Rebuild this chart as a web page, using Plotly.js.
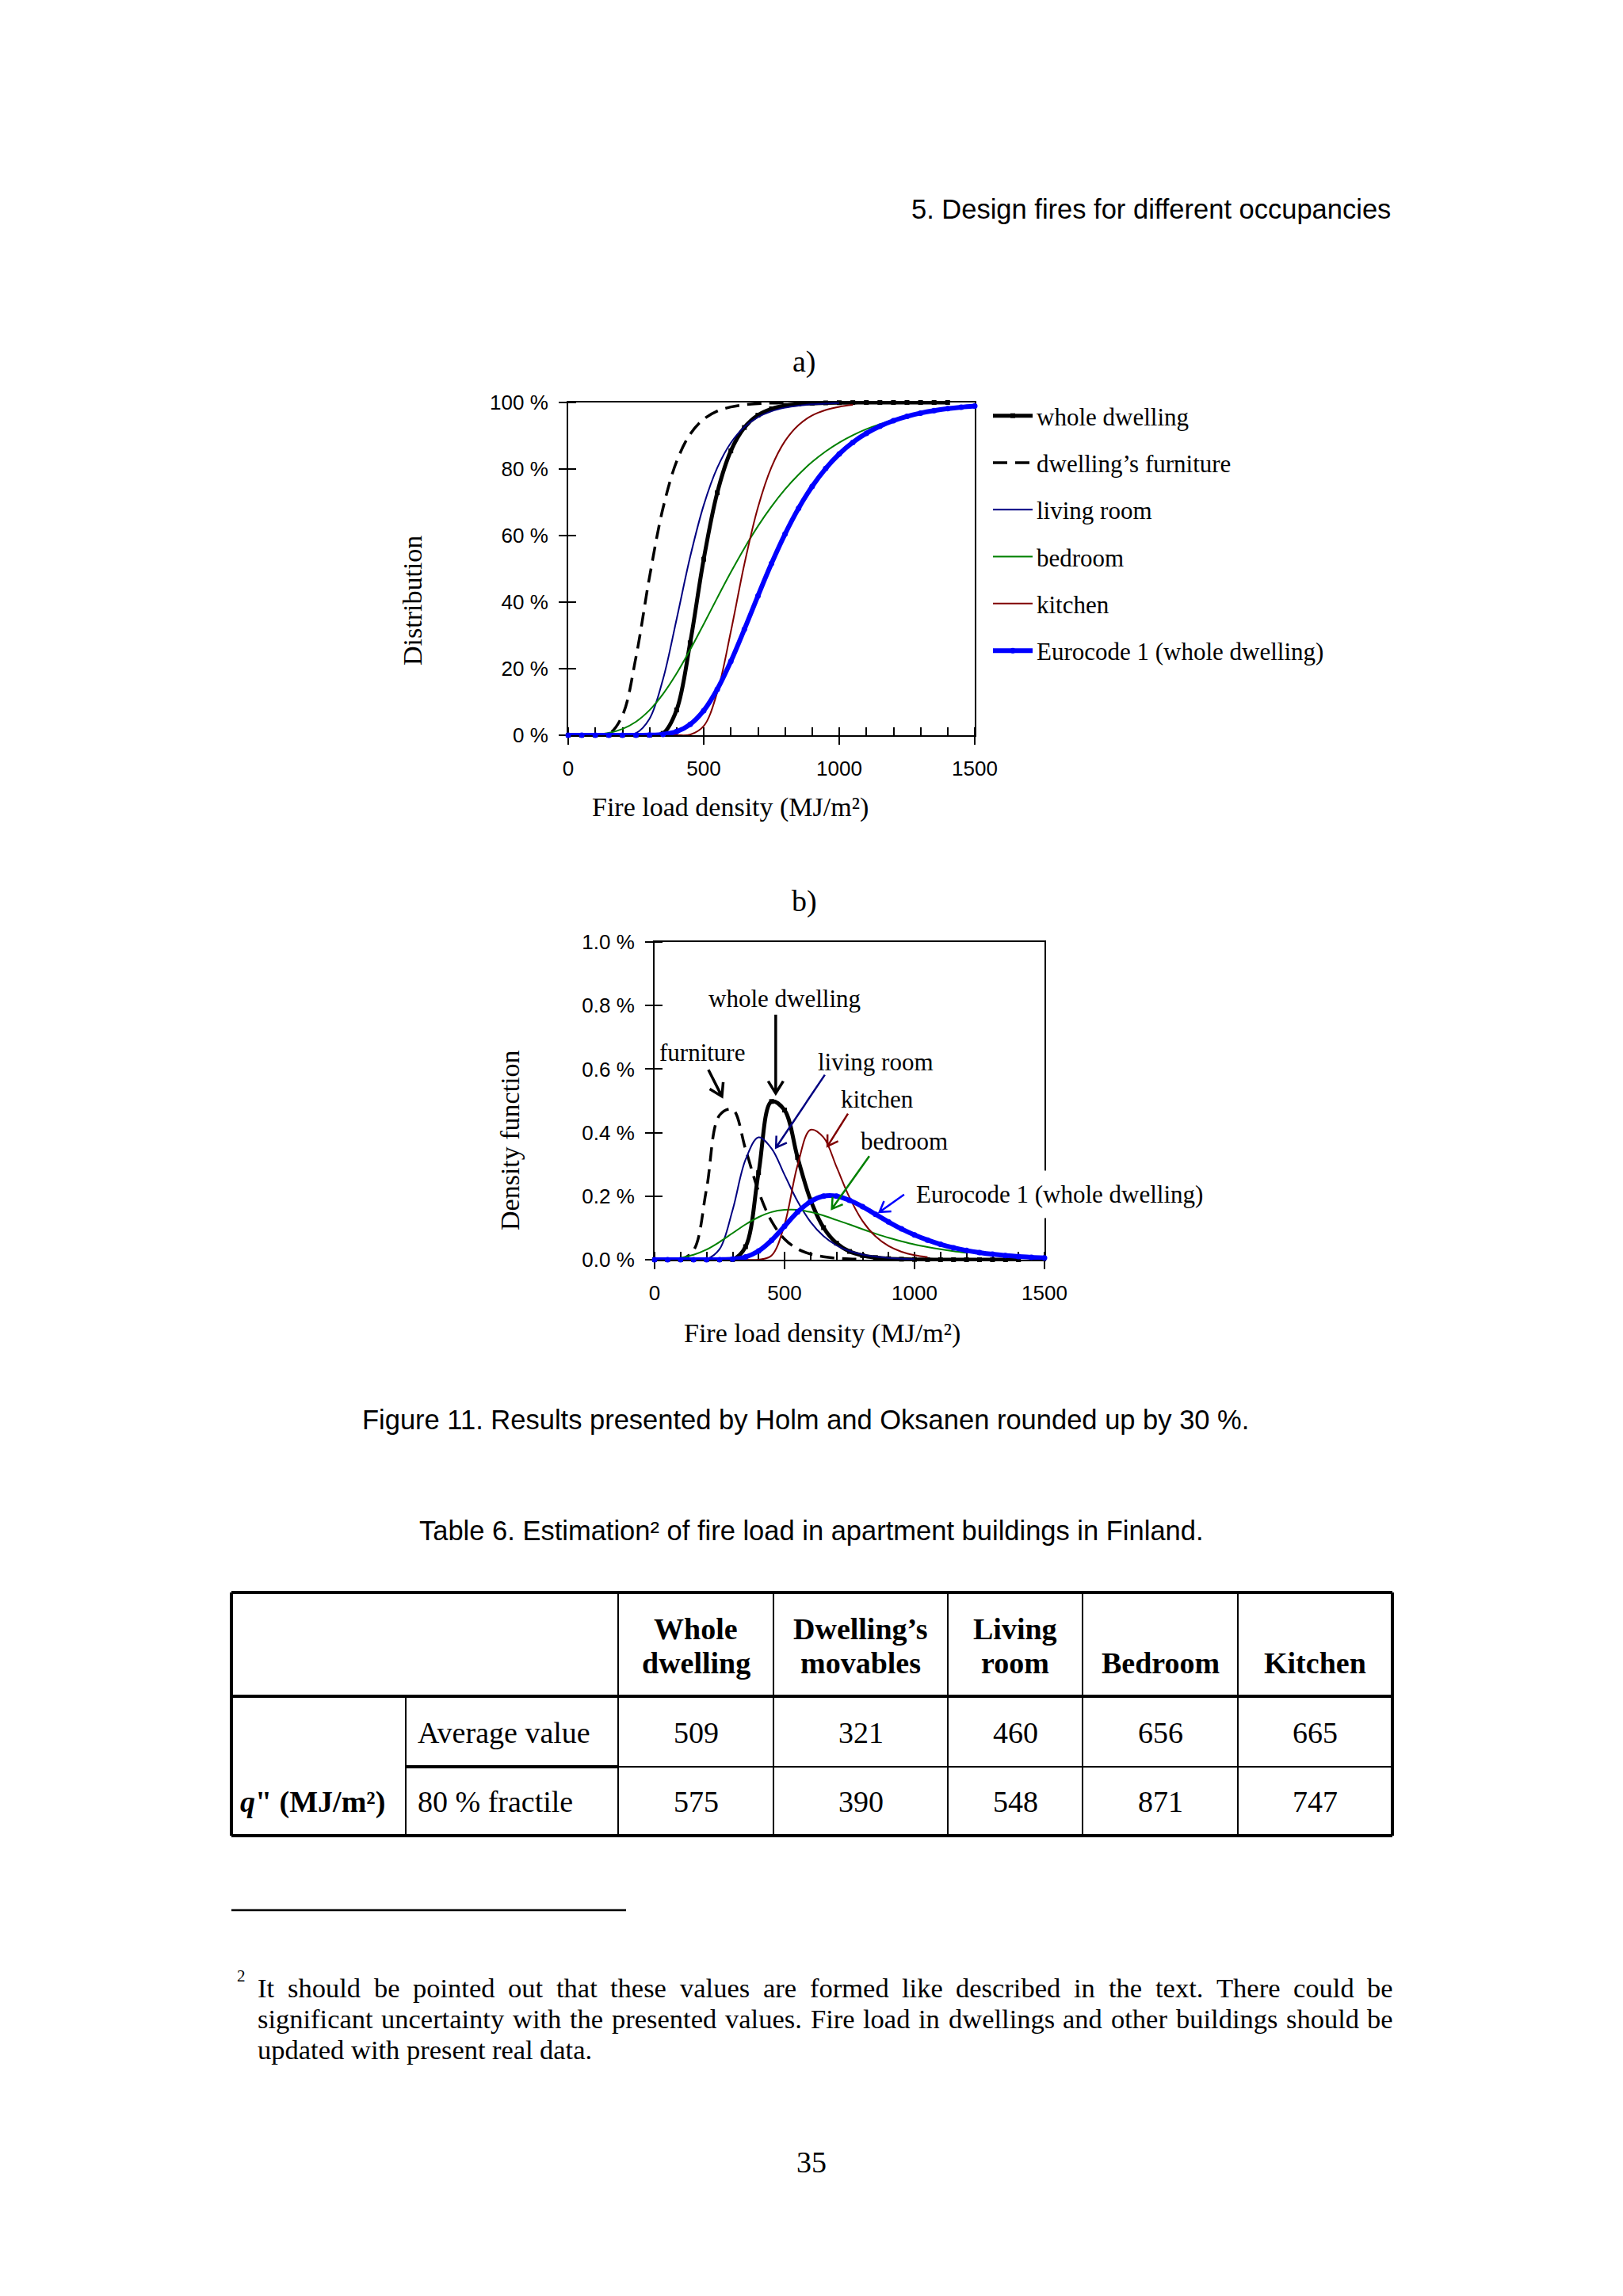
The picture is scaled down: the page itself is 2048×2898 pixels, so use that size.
<!DOCTYPE html>
<html><head><meta charset="utf-8">
<script src="https://cdn.plot.ly/plotly-3.0.1.min.js"></script>
<style>html,body{margin:0;padding:0;background:#fff}#chart{width:2048px;height:2898px}</style>
</head><body><div id="chart"></div>
<script>
// ---------------- data ----------------
const fireLoad = [0,50,100,150,200,250,300,350,400,450,500,550,600,650,700,750,800,850,900,950,1000,1050,1100,1150,1200,1250,1300,1350,1400,1450,1500];
const seriesNames = ['whole dwelling','dwelling’s furniture','living room','bedroom','kitchen','Eurocode 1 (whole dwelling)'];

// a) cumulative distribution, %
const cdfWhole     = [0,0,0,0,0,0,0.003,0.56,7.59,27.78,52.91,72.88,85.45,92.48,96.19,98.09,99.05,99.52,99.76,99.88,99.94,99.97,99.99,99.99,100,100,100,100,100];
const cdfFurniture = [0,0,0.002,0.40,5.91,23.46,47.56,68.33,82.27,90.48,95.00,97.41,98.66,99.31,99.65,99.82,99.91];
const cdfLiving    = [0,0,0,0,0.019,0.63,4.96,16.90,34.90,53.62,69.14,80.37,87.86,92.63,95.57,97.35,98.42,99.06,99.44,99.67,99.80];
const cdfBedroom   = [0.0085,0.052,0.223,0.727,1.878,4.052,7.524,12.40,18.55,25.69,33.40,41.28,48.97,56.21,62.83,68.73,73.89,78.33,82.12,85.31,87.97,90.17,91.99,93.48,94.71];
const cdfKitchen   = [0,0,0,0,0,0,0,0,0.0016,0.183,2.752,12.91,31.14,51.44,68.47,80.58,88.43,93.23,96.09,97.75,98.71,99.26];
const cdfEurocode  = [0,0,0,0,0,0.0035,0.041,0.267,1.107,3.254,7.391,13.80,22.18,31.83,41.87,51.59,60.45,68.20,74.75,80.16,84.52,87.99,90.73,92.87,94.53,95.81,96.80,97.56,98.14,98.58,98.92];

// b) density function, %
const pdfWhole     = [0,0,0,0,0,0,0.0004,0.041,0.274,0.498,0.471,0.322,0.188,0.101,0.052,0.026,0.013,0.0067,0.0033,0.0016,0.0008,0.0004,0.0002,0.0001,0,0,0,0,0];
const pdfFurniture = [0,0,0.0003,0.0295,0.2235,0.455,0.473,0.348,0.215,0.121,0.065,0.034,0.0178,0.0092,0.0047,0.0024,0.0012];
const pdfLiving    = [0,0,0,0,0.0017,0.0333,0.156,0.315,0.385,0.350,0.267,0.184,0.119,0.0744,0.0454,0.0274,0.0164,0.0098,0.0058,0.0034,0.0021];
const pdfBedroom   = [0.0003,0.0017,0.0059,0.0154,0.032,0.0558,0.0835,0.111,0.134,0.150,0.157,0.157,0.150,0.139,0.125,0.111,0.096,0.082,0.069,0.058,0.048,0.040,0.033,0.027,0.022];
const pdfKitchen   = [0,0,0,0,0,0,0,0,0.0002,0.013,0.111,0.297,0.409,0.385,0.292,0.196,0.122,0.0735,0.0432,0.025,0.0144,0.0083];
const pdfEurocode  = [0,0,0,0,0,0.0002,0.0018,0.0087,0.0273,0.0611,0.1055,0.150,0.183,0.200,0.200,0.187,0.167,0.143,0.119,0.097,0.078,0.062,0.0484,0.0377,0.0291,0.0225,0.0172,0.0132,0.0101,0.0077,0.0059];

const xTickVals = [0,500,1000,1500];
const yTickValsA = [0,20,40,60,80,100];
const yTickTextA = ['0 %','20 %','40 %','60 %','80 %','100 %'];
const yTickValsB = [0,0.2,0.4,0.6,0.8,1.0];
const yTickTextB = ['0.0 %','0.2 %','0.4 %','0.6 %','0.8 %','1.0 %'];

// table
const tableColumns = ['Whole<br>dwelling','Dwelling’s<br>movables','Living<br>room','Bedroom','Kitchen'];
const tableRowLabels = ['Average value','80 % fractile'];
const averageValues = [509,321,460,656,665];
const fractileValues = [575,390,548,871,747];

// text
const headerText = '5. Design fires for different occupancies';
const figureCaption = 'Figure 11. Results presented by Holm and Oksanen rounded up by 30 %.';
const tableCaption = 'Table 6. Estimation² of fire load in apartment buildings in Finland.';
const footLines = [
  'It should be pointed out that these values are formed like described in the text. There could be',
  'significant uncertainty with the presented values. Fire load in dwellings and other buildings should be',
  'updated with present real data.'
];
const pageNumber = '35';
const xTitle = 'Fire load density (MJ/m²)';
const yTitleA = 'Distribution';
const yTitleB = 'Density function';

// ---------------- layout helpers ----------------
const W = 2048, H = 2898;
const px = v => v / W;
const py = v => 1 - v / H;
const serif = 'Liberation Serif, Times New Roman, serif';
const sans = 'Liberation Sans, Arial, sans-serif';

const plotA = {l:717, r:1230, t:508, b:928};
const plotB = {l:826, r:1318, t:1189, b:1590};

const styles = [
  {color:'#000000', width:5, dash:'solid', mode:'lines+markers', symbol:'square', msize:6},
  {color:'#000000', width:3.5, dash:'18px,10px', mode:'lines'},
  {color:'#000080', width:2, dash:'solid', mode:'lines'},
  {color:'#008000', width:2, dash:'solid', mode:'lines'},
  {color:'#800000', width:2, dash:'solid', mode:'lines'},
  {color:'#0000ff', width:6, dash:'solid', mode:'lines+markers', symbol:'circle', msize:7}
];
const cdfSeries = [cdfWhole, cdfFurniture, cdfLiving, cdfBedroom, cdfKitchen, cdfEurocode];
const pdfSeries = [pdfWhole, pdfFurniture, pdfLiving, pdfBedroom, pdfKitchen, pdfEurocode];

const traces = [];
function addSeries(list, xa, ya, legend) {
  list.forEach((ys, i) => {
    const s = styles[i];
    const t = {
      type:'scatter', x: fireLoad.slice(0, ys.length), y: ys, xaxis: xa, yaxis: ya,
      name: seriesNames[i], showlegend: legend, mode: s.mode,
      line: {color: s.color, width: s.width, dash: s.dash, shape:'spline', smoothing:1},
      cliponaxis: false, hoverinfo: 'skip'
    };
    if (legend) t.legendgroup = 'g' + i;
    if (s.mode.indexOf('markers') >= 0) t.marker = {symbol: s.symbol, size: s.msize, color: s.color};
    traces.push(t);
  });
}
addSeries(cdfSeries, 'x', 'y', true);
addSeries(pdfSeries, 'x2', 'y2', false);

// minor ticks drawn inside; those under a major tick are nudged by a hair so the tick crosses the axis
function minorVals(lo, hi, step, eps) {
  const v = [];
  for (let k = 0; lo + k * step <= hi + 1e-9; k++) v.push(lo + k * step);
  return v.map((t, i) => i === 0 ? t + eps : (i === v.length - 1 ? t - eps : t + eps * 0.5));
}
const tickFont = {family: sans, size: 26, color:'#000'};
function mainAxis(extra, minorTicks) {
  return Object.assign({showline:true, linecolor:'#000', linewidth:2, mirror:true, ticks:'outside', ticklen:10, tickwidth:2, tickcolor:'#000',
    showgrid:false, zeroline:false, tickfont: tickFont, layer:'below traces', fixedrange:true, ticklabelstandoff:8,
    minor:{tickmode:'array', tickvals:minorTicks, ticks:'inside', ticklen:10, tickwidth:2, tickcolor:'#000', showgrid:false}}, extra);
}

const annotations = [];
function txt(x, y, text, size, family, opts) {
  annotations.push(Object.assign({xref:'paper', yref:'paper', x:px(x), y:py(y), text:text, showarrow:false,
    xanchor:'center', yanchor:'middle', font:{family:family, size:size, color:'#000'}}, opts || {}));
}
txt(1757, 264, headerText, 34.5, sans, {xanchor:'right'});
txt(1015, 457, 'a)', 38, serif);
txt(1015, 1137, 'b)', 38, serif);
txt(520, 758, yTitleA, 34, serif, {textangle:-90});
txt(921, 1019, xTitle, 34, serif);
txt(643, 1439, yTitleB, 34, serif, {textangle:-90});
txt(1037, 1683, xTitle, 34, serif);
txt(1016, 1792, figureCaption, 34.5, sans);
txt(1024, 1932, tableCaption, 34.5, sans);
txt(1024, 2729, pageNumber, 38, serif);

// plot b labels
const bLabels = [
  {t:'whole dwelling', x:500, y:0.821},
  {t:'furniture', x:183, y:0.653},
  {t:'living room', x:851, y:0.623},
  {t:'kitchen', x:856, y:0.504},
  {t:'bedroom', x:960, y:0.372}
];
bLabels.forEach(l => annotations.push({xref:'x2', yref:'y2', x:l.x, y:l.y, text:l.t, showarrow:false,
  xanchor:'center', yanchor:'middle', font:{family:serif, size:31, color:'#000'}}));
annotations.push({xref:'x2', yref:'y2', x:966, y:0.205, text:'Eurocode 1 (whole dwelling)', showarrow:false,
  xanchor:'left', yanchor:'middle', bgcolor:'#ffffff', borderpad:12, font:{family:serif, size:31, color:'#000'}});

// plot b arrows (tail -> head, data units), drawn as path shapes
const bArrows = [
  {tx:466, ty:0.771, hx:466, hy:0.524, c:'#000000', w:3.5, len:18},
  {tx:207, ty:0.598, hx:259, hy:0.514, c:'#000000', w:3.5, len:18},
  {tx:655, ty:0.582, hx:467, hy:0.353, c:'#000080', w:2.5, len:15},
  {tx:744, ty:0.460, hx:665, hy:0.357, c:'#800000', w:2.5, len:15},
  {tx:826, ty:0.326, hx:682, hy:0.160, c:'#008000', w:2.5, len:15},
  {tx:960, ty:0.205, hx:865, hy:0.150, c:'#0000ff', w:2.5, len:15}
];
const shapes = [];
const sxB = (plotB.r - plotB.l) / 1500, syB = (plotB.b - plotB.t) / 1.0;
bArrows.forEach(a => {
  const TX = a.tx * sxB, TY = a.ty * syB, HX = a.hx * sxB, HY = a.hy * syB;
  const L = Math.hypot(HX - TX, HY - TY), bx = (TX - HX) / L, by = (TY - HY) / L;
  const ang = 32 * Math.PI / 180, c = Math.cos(ang), s = Math.sin(ang);
  const w1 = [HX + a.len * (bx * c - by * s), HY + a.len * (bx * s + by * c)];
  const w2 = [HX + a.len * (bx * c + by * s), HY + a.len * (-bx * s + by * c)];
  const d = (X, Y) => (X / sxB).toFixed(2) + ',' + (Y / syB).toFixed(5);
  shapes.push({type:'path', xref:'x2', yref:'y2', layer:'above',
    path: 'M' + d(TX, TY) + 'L' + d(HX, HY) + 'M' + d(w1[0], w1[1]) + 'L' + d(HX, HY) + 'L' + d(w2[0], w2[1]),
    line:{color:a.c, width:a.w}});
});

// table
const colEdges = [292, 512, 780, 976, 1196, 1366, 1562, 1757];
const rowEdges = [2010, 2141, 2230, 2317];
function seg(x0, y0, x1, y1, w) {
  shapes.push({type:'line', xref:'paper', yref:'paper', x0:px(x0), y0:py(y0), x1:px(x1), y1:py(y1), line:{color:'#000', width:w}});
}
seg(colEdges[0], rowEdges[0], colEdges[7], rowEdges[0], 4);
seg(colEdges[0], rowEdges[3], colEdges[7], rowEdges[3], 4);
seg(colEdges[0], rowEdges[0], colEdges[0], rowEdges[3], 4);
seg(colEdges[7], rowEdges[0], colEdges[7], rowEdges[3], 4);
seg(colEdges[0], rowEdges[1], colEdges[7], rowEdges[1], 4);
seg(colEdges[1], rowEdges[2], colEdges[2], rowEdges[2], 4);
seg(colEdges[2], rowEdges[2], colEdges[7], rowEdges[2], 2);
seg(colEdges[1], rowEdges[1], colEdges[1], rowEdges[3], 2);
for (let i = 2; i < 7; i++) seg(colEdges[i], rowEdges[0], colEdges[i], rowEdges[3], 2);
seg(292, 2411, 790, 2411, 2.5);   // footnote rule

const headLineY = [2056, 2099];
tableColumns.forEach((c, j) => {
  const cx = (colEdges[j+2] + colEdges[j+3]) / 2;
  const parts = c.split('<br>');
  parts.forEach((p, k) => txt(cx, headLineY[headLineY.length - parts.length + k], '<b>' + p + '</b>', 38, serif));
  txt(cx, 2187, String(averageValues[j]), 38, serif);
  txt(cx, 2274, String(fractileValues[j]), 38, serif);
});
txt(525, 2187, tableRowLabels[0], 38, serif, {xanchor:'left'});
txt(525, 2274, tableRowLabels[1], 38, serif, {xanchor:'left'});
txt(301, 2274, '<b><i>q</i>" (MJ/m²)</b>', 38, serif, {xanchor:'left'});

// footnote, justified word by word
const footSize = 34.5;
txt(297, 2494, '2', 21, serif, {xanchor:'left'});
const cv = document.createElement('canvas').getContext('2d');
cv.font = footSize + 'px "Liberation Serif"';
const footLeft = 324, footRight = 1757, footY = [2509, 2548, 2587];
footLines.forEach((line, li) => {
  const words = line.split(' ');
  const widths = words.map(w => cv.measureText(w).width);
  const total = widths.reduce((a, b) => a + b, 0);
  const justify = li < footLines.length - 1;
  const gap = justify ? (footRight - footLeft - total) / (words.length - 1) : cv.measureText(' ').width;
  let x = footLeft;
  words.forEach((w, k) => {
    txt(x, footY[li], w, footSize, serif, {xanchor:'left', borderpad:0});
    x += widths[k] + gap;
  });
});

const layout = {
  width: W, height: H, margin:{l:0, r:0, t:0, b:0}, paper_bgcolor:'#ffffff', plot_bgcolor:'rgba(0,0,0,0)',
  showlegend: true,
  legend: {x:px(1248), y:py(498), xanchor:'left', yanchor:'top', bgcolor:'rgba(0,0,0,0)', borderwidth:0,
    font:{family:serif, size:31, color:'#000'}, tracegroupgap:16, itemwidth:50},
  xaxis: mainAxis({domain:[px(plotA.l), px(plotA.r)], anchor:'y', range:[0,1500], tickvals:xTickVals}, minorVals(0, 1500, 100, 0.75)),
  yaxis: mainAxis({domain:[py(plotA.b), py(plotA.t)], anchor:'x', range:[0,100], tickvals:yTickValsA, ticktext:yTickTextA}, minorVals(0, 100, 20, 0.05)),
  xaxis2: mainAxis({domain:[px(plotB.l), px(plotB.r)], anchor:'y2', range:[0,1500], tickvals:xTickVals}, minorVals(0, 1500, 100, 0.75)),
  yaxis2: mainAxis({domain:[py(plotB.b), py(plotB.t)], anchor:'x2', range:[0,1], tickvals:yTickValsB, ticktext:yTickTextB}, minorVals(0, 1, 0.2, 0.0005)),
  annotations: annotations,
  shapes: shapes
};

Plotly.newPlot('chart', traces, layout, {displayModeBar:false, staticPlot:true});
</script>
</body></html>
